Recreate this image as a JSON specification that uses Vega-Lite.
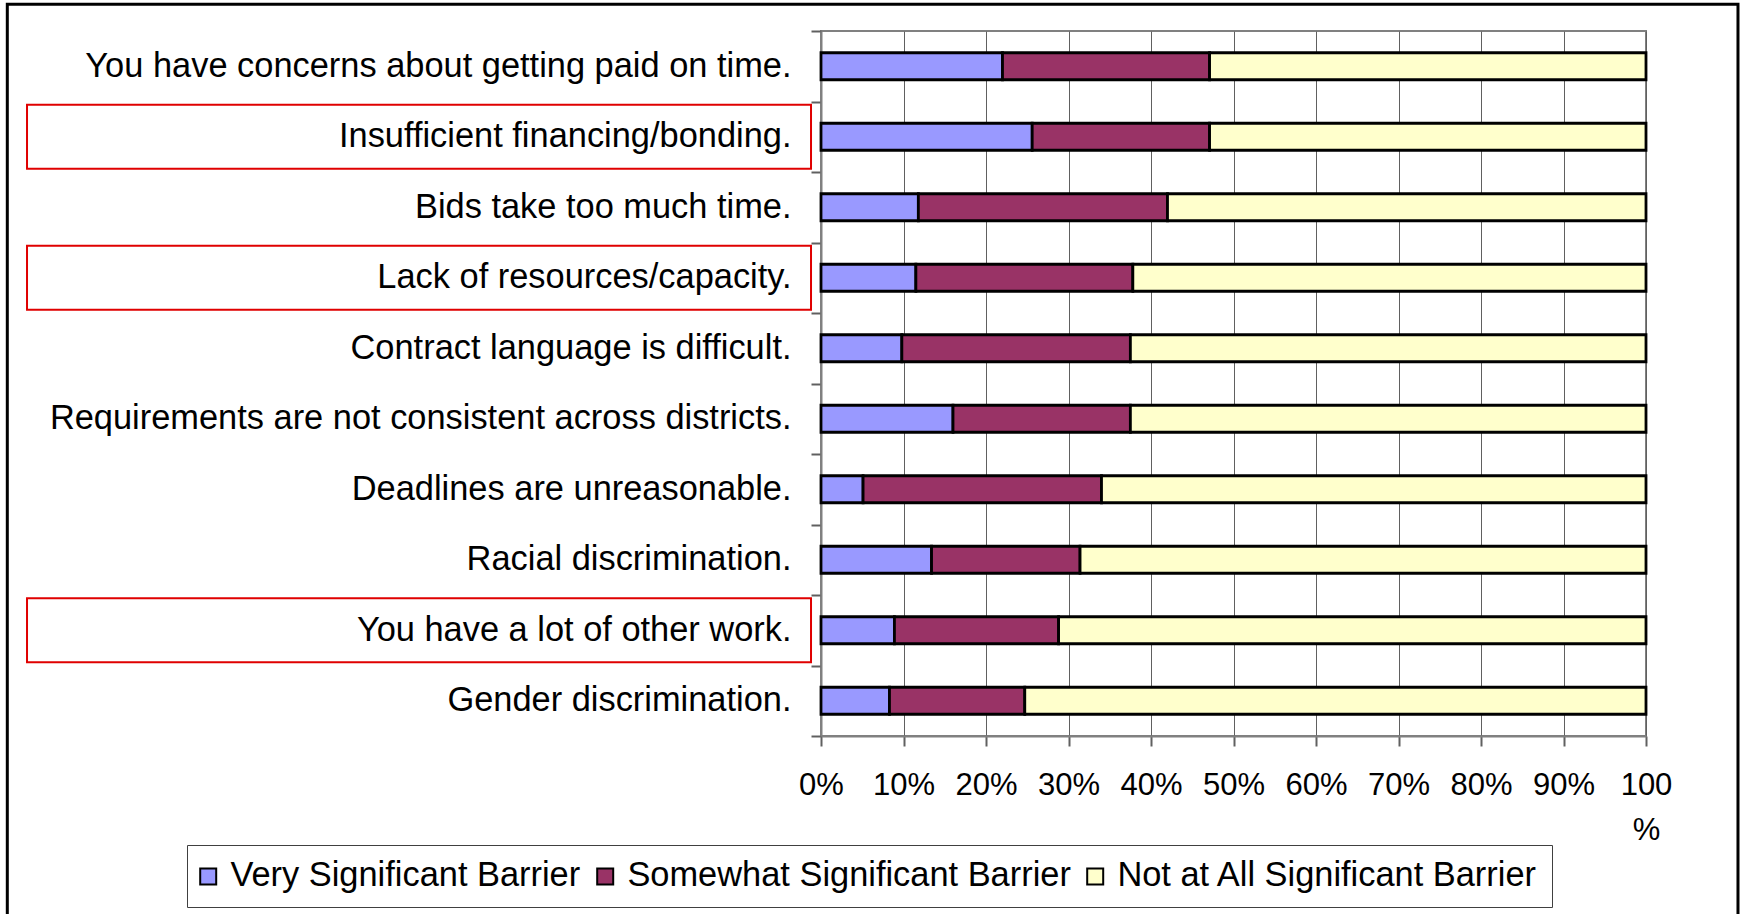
{
  "$schema": "https://vega.github.io/schema/vega-lite/v6.json",
  "width": 825,
  "height": 705,
  "autosize": "none",
  "padding": {"left": 821, "top": 31, "right": 96, "bottom": 178},
  "background": "white",
  "config": {
    "font": "Liberation Sans",
    "view": {"stroke": "#808080", "strokeWidth": 2}
  },
  "datasets": {
    "bars": [
      {"barrier": "You have concerns about getting paid on time.", "rating": "Very Significant Barrier", "share": 0.220},
      {"barrier": "You have concerns about getting paid on time.", "rating": "Somewhat Significant Barrier", "share": 0.251},
      {"barrier": "You have concerns about getting paid on time.", "rating": "Not at All Significant Barrier", "share": 0.529},
      {"barrier": "Insufficient financing/bonding.", "rating": "Very Significant Barrier", "share": 0.256},
      {"barrier": "Insufficient financing/bonding.", "rating": "Somewhat Significant Barrier", "share": 0.215},
      {"barrier": "Insufficient financing/bonding.", "rating": "Not at All Significant Barrier", "share": 0.529},
      {"barrier": "Bids take too much time.", "rating": "Very Significant Barrier", "share": 0.118},
      {"barrier": "Bids take too much time.", "rating": "Somewhat Significant Barrier", "share": 0.302},
      {"barrier": "Bids take too much time.", "rating": "Not at All Significant Barrier", "share": 0.580},
      {"barrier": "Lack of resources/capacity.", "rating": "Very Significant Barrier", "share": 0.115},
      {"barrier": "Lack of resources/capacity.", "rating": "Somewhat Significant Barrier", "share": 0.263},
      {"barrier": "Lack of resources/capacity.", "rating": "Not at All Significant Barrier", "share": 0.622},
      {"barrier": "Contract language is difficult.", "rating": "Very Significant Barrier", "share": 0.098},
      {"barrier": "Contract language is difficult.", "rating": "Somewhat Significant Barrier", "share": 0.277},
      {"barrier": "Contract language is difficult.", "rating": "Not at All Significant Barrier", "share": 0.625},
      {"barrier": "Requirements are not consistent across districts.", "rating": "Very Significant Barrier", "share": 0.160},
      {"barrier": "Requirements are not consistent across districts.", "rating": "Somewhat Significant Barrier", "share": 0.215},
      {"barrier": "Requirements are not consistent across districts.", "rating": "Not at All Significant Barrier", "share": 0.625},
      {"barrier": "Deadlines are unreasonable.", "rating": "Very Significant Barrier", "share": 0.051},
      {"barrier": "Deadlines are unreasonable.", "rating": "Somewhat Significant Barrier", "share": 0.289},
      {"barrier": "Deadlines are unreasonable.", "rating": "Not at All Significant Barrier", "share": 0.660},
      {"barrier": "Racial discrimination.", "rating": "Very Significant Barrier", "share": 0.134},
      {"barrier": "Racial discrimination.", "rating": "Somewhat Significant Barrier", "share": 0.180},
      {"barrier": "Racial discrimination.", "rating": "Not at All Significant Barrier", "share": 0.686},
      {"barrier": "You have a lot of other work.", "rating": "Very Significant Barrier", "share": 0.089},
      {"barrier": "You have a lot of other work.", "rating": "Somewhat Significant Barrier", "share": 0.199},
      {"barrier": "You have a lot of other work.", "rating": "Not at All Significant Barrier", "share": 0.712},
      {"barrier": "Gender discrimination.", "rating": "Very Significant Barrier", "share": 0.083},
      {"barrier": "Gender discrimination.", "rating": "Somewhat Significant Barrier", "share": 0.164},
      {"barrier": "Gender discrimination.", "rating": "Not at All Significant Barrier", "share": 0.753}
    ],
    "highlight": [
      {"barrier": "Insufficient financing/bonding."},
      {"barrier": "Lack of resources/capacity."},
      {"barrier": "You have a lot of other work."}
    ]
  },
  "resolve": {"scale": {"y": "independent"}},
  "layer": [
    {
      "data": {"values": [{}]},
      "mark": {"type": "rect", "fillOpacity": 0, "stroke": "black", "strokeWidth": 3, "clip": false},
      "encoding": {
        "x": {"datum": -0.9863, "type": "quantitative", "scale": {"domain": [0, 1], "nice": false, "zero": false}},
        "x2": {"datum": 1.1115},
        "y": {"datum": 1.038, "type": "quantitative", "scale": {"domain": [0, 1], "nice": false, "zero": false}, "axis": null},
        "y2": {"datum": -0.261}
      }
    },
    {
      "data": {"name": "highlight"},
      "mark": {"type": "bar", "fillOpacity": 0, "stroke": "#e00000", "strokeWidth": 2, "height": {"band": 0.91}, "clip": false},
      "encoding": {
        "y": {
          "field": "barrier", "type": "nominal", "sort": null,
          "scale": {"domain": ["You have concerns about getting paid on time.", "Insufficient financing/bonding.", "Bids take too much time.", "Lack of resources/capacity.", "Contract language is difficult.", "Requirements are not consistent across districts.", "Deadlines are unreasonable.", "Racial discrimination.", "You have a lot of other work.", "Gender discrimination."], "paddingInner": 0, "paddingOuter": 0},
          "axis": {"title": null, "labelFontSize": 34.4, "labelColor": "black", "labelLimit": 0, "labelPadding": 20, "tickSize": 10, "tickColor": "#606060", "tickWidth": 2, "tickBand": "extent", "domainColor": "#808080", "domainWidth": 2, "grid": false}
        },
        "x": {"datum": -0.9624, "type": "quantitative"},
        "x2": {"datum": -0.0121}
      }
    },
    {
      "data": {"name": "bars"},
      "mark": {"type": "bar", "stroke": "black", "strokeWidth": 2.8},
      "encoding": {
        "y": {
          "field": "barrier", "type": "nominal", "sort": null,
          "scale": {"domain": ["You have concerns about getting paid on time.", "Insufficient financing/bonding.", "Bids take too much time.", "Lack of resources/capacity.", "Contract language is difficult.", "Requirements are not consistent across districts.", "Deadlines are unreasonable.", "Racial discrimination.", "You have a lot of other work.", "Gender discrimination."], "paddingInner": 0.617, "paddingOuter": 0.3085},
          "axis": null
        },
        "x": {
          "field": "share", "type": "quantitative", "stack": "zero",
          "scale": {"domain": [0, 1], "nice": false, "zero": false},
          "axis": {"title": null, "values": [0, 0.1, 0.2, 0.3, 0.4, 0.5, 0.6, 0.7, 0.8, 0.9, 1], "labelExpr": "datum.value >= 0.999 ? ['100', '%'] : format(datum.value, '.0%')", "labelFontSize": 31, "labelColor": "black", "labelLineHeight": 45, "labelPadding": 24, "labelFlush": false, "labelOverlap": false, "tickSize": 10, "tickColor": "#606060", "tickWidth": 2, "grid": true, "gridColor": "#606060", "gridWidth": 1, "domainColor": "#808080", "domainWidth": 2}
        },
        "color": {
          "field": "rating", "type": "nominal",
          "scale": {"domain": ["Very Significant Barrier", "Somewhat Significant Barrier", "Not at All Significant Barrier"], "range": ["#9999FF", "#993366", "#FFFFCC"]},
          "legend": {"title": null, "orient": "none", "legendX": -634, "legendY": 814, "direction": "horizontal", "symbolType": "square", "symbolSize": 256, "symbolOffset": -10, "symbolStrokeColor": "black", "symbolStrokeWidth": 2, "labelFontSize": 34.4, "labelColor": "black", "labelOffset": 5, "labelLimit": 0, "columnPadding": 12, "padding": 14, "strokeColor": "#404040", "fillColor": "white"}
        },
        "order": {"field": "rating", "sort": "descending"}
      }
    }
  ]
}
